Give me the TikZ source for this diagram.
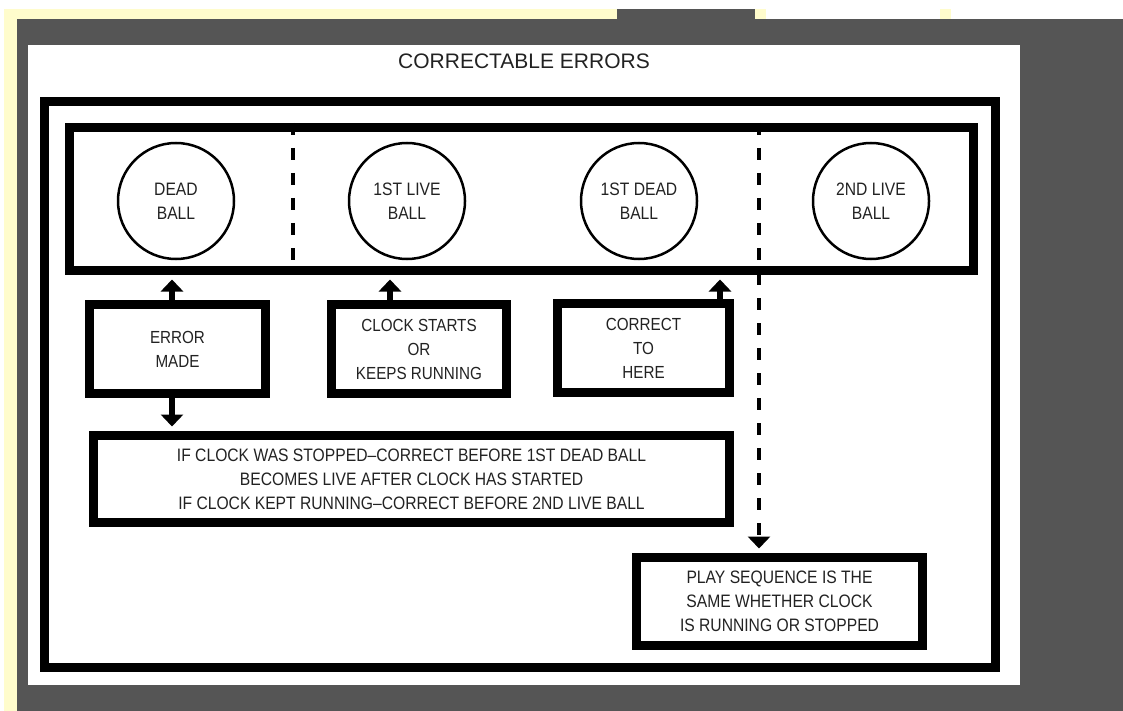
\documentclass[tikz,border=0pt]{standalone}
\usepackage{fontspec}
\setmainfont{Liberation Sans}
\newfontfamily\nf{Liberation Sans}[FakeStretch=0.87]
\usetikzlibrary{arrows.meta}
\definecolor{bggray}{HTML}{555555}
\definecolor{paleyel}{HTML}{FFFCCC}
\definecolor{txt}{HTML}{222222}
\tikzset{
  frame/.style={draw=black, line width=9pt, rectangle, inner sep=0pt},
  ball/.style={draw=black, line width=2.5pt, circle, minimum size=116pt, inner sep=0pt,
     align=center, text=txt, font=\nf\fontsize{18}{24}\selectfont},
  txtbox/.style={frame, align=center, text=txt, font=\nf\fontsize{17.5}{24}\selectfont},
  bigarrow/.style={line width=6pt, -{Triangle[width=22pt,length=12pt]}, shorten >=4.5pt},
  divider/.style={line width=4pt, dash pattern=on 12pt off 13pt}
}
\begin{document}
\begin{tikzpicture}[x=1pt,y=-1pt]
% background
\fill[white] (0,0) rectangle (1123,711);
\useasboundingbox (0,0) rectangle (1123,711);
\fill[paleyel] (4,9) rectangle (17,711);
\fill[paleyel] (4,9) rectangle (617,19);
\fill[bggray] (17,19) rectangle (1123,711);
\fill[bggray] (617,9) rectangle (755,19);
\fill[paleyel] (755,9) rectangle (766,19);
\fill[paleyel] (940,9) rectangle (951,19);
\fill[white] (28,45) rectangle (1020,685);
% title
\node[anchor=base, text=txt, font=\fontsize{21}{24}\selectfont] (title) at (524,69) {CORRECTABLE ERRORS};
% outer frame
\node[frame, minimum width=951pt, minimum height=566pt] (outer) at (520,384.5) {};
% top box
\node[frame, minimum width=904pt, minimum height=143pt] (top) at (521.5,199) {};
% balls
\node[ball] (c1) at (176,201) {DEAD\\BALL};
\node[ball] (c2) at (407,201) {1ST LIVE\\BALL};
\node[ball] (c3) at (639,201) {1ST DEAD\\BALL};
\node[ball] (c4) at (871,201) {2ND LIVE\\BALL};
% boxes
\node[txtbox, minimum width=176pt, minimum height=89pt] (err) at (177.5,349) {ERROR\\MADE};
\node[txtbox, minimum width=175pt, minimum height=89pt] (clk) at (419,349) {CLOCK STARTS\\OR\\KEEPS RUNNING};
\node[txtbox, minimum width=172pt, minimum height=89pt] (cor) at (643.5,348) {CORRECT\\TO\\HERE};
\node[txtbox, minimum width=636pt, minimum height=87pt, font=\nf\fontsize{18}{24}\selectfont] (big) at (411.5,479)
  {IF CLOCK WAS STOPPED–CORRECT BEFORE 1ST DEAD BALL\\BECOMES LIVE AFTER CLOCK HAS STARTED\\IF CLOCK KEPT RUNNING–CORRECT BEFORE 2ND LIVE BALL};
\node[txtbox, minimum width=286pt, minimum height=88pt, font=\nf\fontsize{18}{24}\selectfont] (play) at (779.5,601.5)
  {PLAY SEQUENCE IS THE\\SAME WHETHER CLOCK\\IS RUNNING OR STOPPED};
% dividers
\coordinate (d1) at (293,0);
\coordinate (d2) at (759,0);
\draw[divider] (d1 |- top.north) -- (d1 |- top.south);
\draw[divider, -{Triangle[width=22pt,length=12pt]}, shorten >=4.5pt] (d2 |- top.north) -- (d2 |- play.north);
% arrows
\coordinate (a1) at ([xshift=-5.5pt]err.north);
\coordinate (a2) at ([xshift=-29pt]clk.north);
\coordinate (a3) at ([xshift=76.5pt]cor.north);
\coordinate (a4) at ([xshift=-5.5pt]err.south);
\draw[bigarrow] (a1) -- (a1 |- top.south);
\draw[bigarrow] (a2) -- (a2 |- top.south);
\draw[bigarrow] (a3) -- (a3 |- top.south);
\draw[bigarrow] (a4) -- (a4 |- big.north);
\end{tikzpicture}
\end{document}
